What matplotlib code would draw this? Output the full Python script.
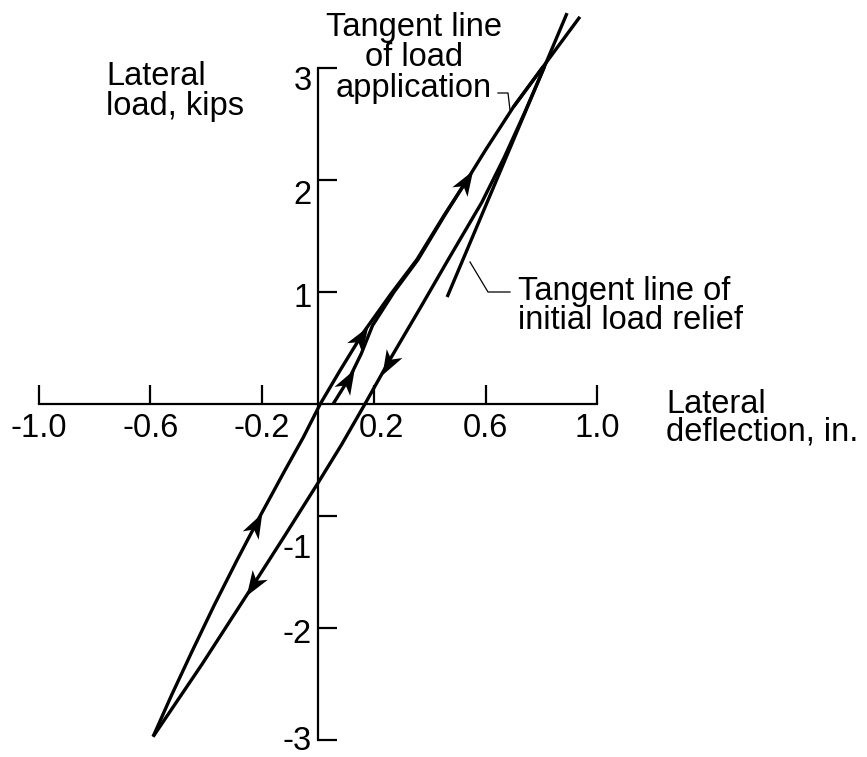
import numpy as np
import matplotlib
matplotlib.use("Agg")
import matplotlib.pyplot as plt
from matplotlib.path import Path
from matplotlib.markers import MarkerStyle
from matplotlib.transforms import Affine2D, offset_copy

plt.rcParams['font.family'] = ['Liberation Sans', 'DejaVu Sans']

# Load-deflection loop: lateral deflection (in.) against lateral load (kips)
initial_x = [0.054, 0.114, 0.155, 0.195, 0.272, 0.358, 0.452, 0.533]
initial_y = [0.0, 0.24, 0.45, 0.70, 1.0, 1.29, 1.68, 2.0]

reload_x = [-0.59, -0.524, -0.449, -0.372, -0.291, -0.207, -0.120, -0.053,
            0.008, 0.079, 0.161, 0.26, 0.354, 0.45, 0.533, 0.60, 0.70, 0.805]
reload_y = [-2.97, -2.60, -2.20, -1.80, -1.40, -1.00, -0.60, -0.30,
            0.0, 0.30, 0.634, 0.98, 1.29, 1.68, 2.0, 2.27, 2.655, 3.01]

relief_x = [0.81, 0.739, 0.666, 0.586, 0.466, 0.364, 0.258, 0.168, 0.085,
            0.0, -0.12, -0.243, -0.414, -0.59]
relief_y = [3.01, 2.60, 2.20, 1.80, 1.29, 0.85, 0.40, 0.0, -0.36,
            -0.705, -1.18, -1.66, -2.32, -2.97]

tangent_application_x = [0.70, 0.937]
tangent_application_y = [2.655, 3.457]
tangent_relief_x = [0.462, 0.891]
tangent_relief_y = [0.955, 3.49]

x_ticks = [-1.0, -0.6, -0.2, 0.2, 0.6, 1.0]
x_tick_labels = ['-1.0', '-0.6', '-0.2', '0.2', '0.6', '1.0']
y_ticks = [-3, -2, -1, 1, 2, 3]
y_tick_labels = ['-3', '-2', '-1', '1', '2', '3']

# direction arrows: (curve, load level, +1 = load increasing, -1 = decreasing)
arrows = [('reload', -1.07, 1), ('reload', 0.60, 1), ('reload', 1.99, 1),
          ('initial', 0.21, 1), ('relief', 0.36, -1), ('relief', -1.62, -1)]

curves = {
    'initial': (initial_x, initial_y),
    'reload': (reload_x, reload_y),
    'relief': (relief_x, relief_y),
}

W, H, DPI = 867, 757, 100
fig = plt.figure(figsize=(W / DPI, H / DPI), dpi=DPI)
ax = fig.add_axes([0, 0, 1, 1])

# pixel layout of the origin and unit lengths
x0, y0, sx, sy = 318.0, 404.0, 279.5, 112.0
ax.set_xlim(-x0 / sx, (W - x0) / sx)
ax.set_ylim((y0 - H) / sy, y0 / sy)

LW = 2.4
for name, (cx, cy) in curves.items():
    ax.plot(cx, cy, color='black', lw=LW, solid_capstyle='butt',
            solid_joinstyle='round')
ax.plot(tangent_application_x, tangent_application_y, color='black', lw=LW,
        solid_capstyle='butt')
ax.plot(tangent_relief_x, tangent_relief_y, color='black', lw=LW,
        solid_capstyle='butt')

# axes crossing at the origin
for side in ('top', 'right'):
    ax.spines[side].set_visible(False)
ax.spines['left'].set_position(('data', 0))
ax.spines['bottom'].set_position(('data', 0))
ax.spines['left'].set_bounds(-3, 3)
ax.spines['bottom'].set_bounds(-1, 1)
for side in ('left', 'bottom'):
    ax.spines[side].set_linewidth(1.6)
    ax.spines[side].set_capstyle('projecting')
ax.set_xticks(x_ticks)
ax.set_yticks(y_ticks)
ax.tick_params(direction='in', length=14, width=1.6,
               labelleft=False, labelbottom=False)

FS = 23.5
x_label_shift = {0.2: 8}
for v, s in zip(x_ticks, x_tick_labels):
    tr = offset_copy(ax.transData, fig, x=x_label_shift.get(v, 0), y=-33,
                     units='dots')
    ax.text(v, 0, s, transform=tr, ha='center', va='baseline', fontsize=FS)

y_label_drop = {3: 22, 2: 24, 1: 15, -1: 42, -2: 15, -3: 10}
for v, s in zip(y_ticks, y_tick_labels):
    tr = offset_copy(ax.transData, fig, x=-6, y=-y_label_drop[v], units='dots')
    ax.text(0, v, s, transform=tr, ha='right', va='baseline', fontsize=FS)

# stealth-style arrowheads along the curves
head = Path([(1, 0), (-1, 0.72), (-0.45, 0), (-1, -0.72), (1, 0)],
            [Path.MOVETO, Path.LINETO, Path.LINETO, Path.LINETO, Path.CLOSEPOLY])
for name, level, heading in arrows:
    cx, cy = np.asarray(curves[name][0]), np.asarray(curves[name][1])
    order = np.argsort(cy)
    px = np.interp(level, cy[order], cx[order])
    qx = np.interp(level + 0.05 * heading, cy[order], cx[order])
    a = ax.transData.transform((px, level))
    b = ax.transData.transform((qx, level + 0.05 * heading))
    ang = np.degrees(np.arctan2(b[1] - a[1], b[0] - a[0]))
    ms = MarkerStyle(head, transform=Affine2D().rotate_deg(ang))
    ax.plot([px], [level], marker=ms, markersize=18, color='black',
            markeredgewidth=0, linestyle='none')


def px_to_data(px, py):
    return (px - x0) / sx, (y0 - py) / sy


def put(px, py, s, ha='left'):
    x, y = px_to_data(px, py)
    ax.text(x, y, s, ha=ha, va='baseline', fontsize=FS)


put(106, 85, 'Lateral')
put(106, 115, 'load, kips')
put(414, 36, 'Tangent line', ha='center')
put(414, 66, 'of load', ha='center')
put(414, 97, 'application', ha='center')
put(518, 300, 'Tangent line of')
put(518, 329, 'initial load relief')
put(666, 413, 'Lateral')
put(666, 441, 'deflection, in.')

# leader lines
lead_app = [px_to_data(*p) for p in [(498, 93), (508, 93), (510, 110)]]
lead_rel = [px_to_data(*p) for p in [(470, 262), (488, 292), (510, 292)]]
for lead in (lead_app, lead_rel):
    lx, ly = zip(*lead)
    ax.plot(lx, ly, color='black', lw=0.9)

ax.set_facecolor('white')
fig.savefig('out.png', dpi=DPI, facecolor='white')
